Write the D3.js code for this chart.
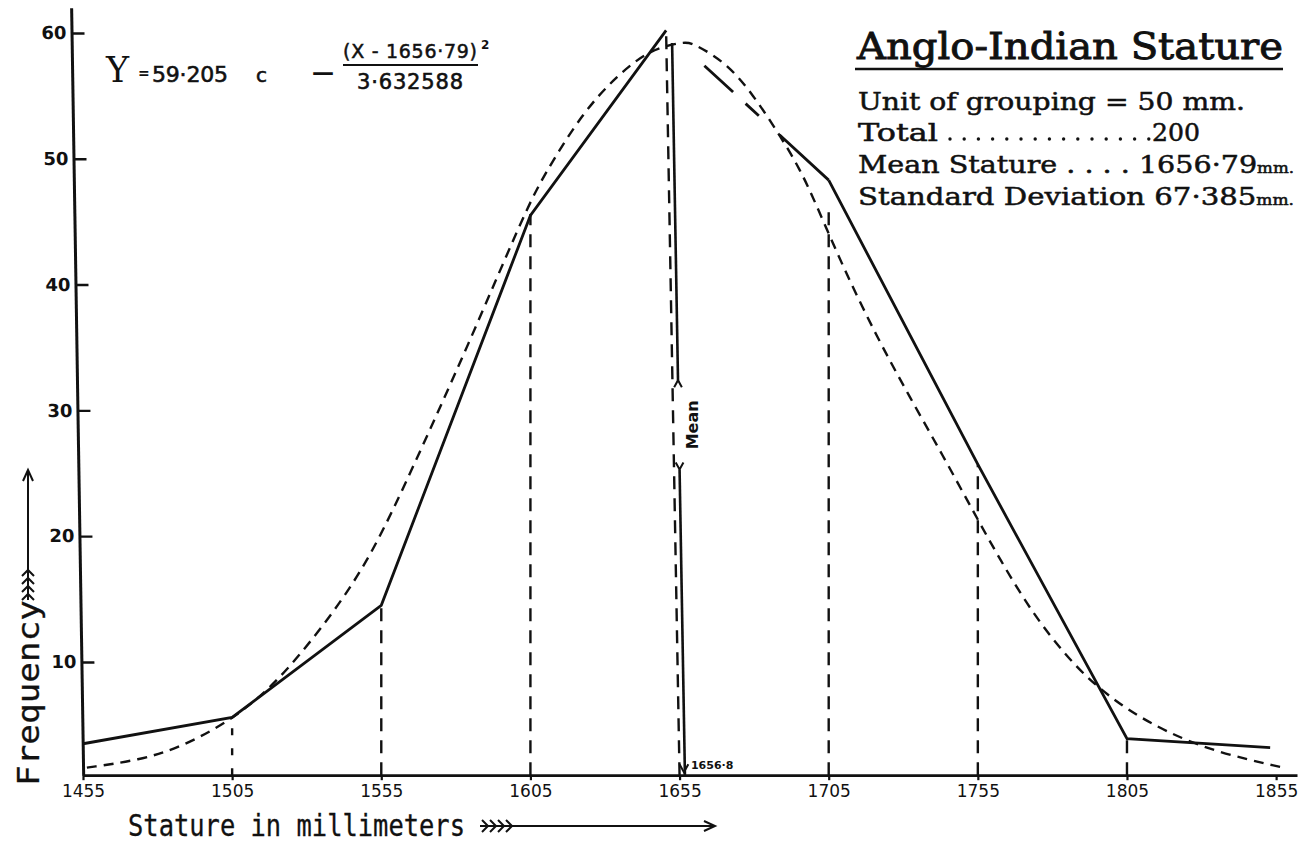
<!DOCTYPE html>
<html><head><meta charset="utf-8">
<script src="https://cdn.jsdelivr.net/npm/d3@7"></script>
<style>body{margin:0;background:#fff}svg{display:block}</style>
</head><body>
<svg id="chart" width="1299" height="842"></svg>
<script>
// ---------- data ----------
const statureTicks = [1455,1505,1555,1605,1655,1705,1755,1805,1855];
const freqTicks = [10,20,30,40,50,60];
// observed frequency polygon
const polyStature = [1455,1505,1555,1605,1650.5,1705,1755,1805,1853];
const polyFreq    = [3.5, 5.6, 14.5, 45.5, 60.2, 48.3, 25.7, 3.9, 3.2];
// fitted normal curve (dashed)
const curveStature = [1456.3,1474.1,1487.5,1503.6,1518.7,1535.5,1551.2,1567.0,1583.8,1602.5,1609.2,1622.6,1634.0,1645.1,1656.5,1659.5,1670.9,1679.6,1687.7,1695.4,1701.1,1709.8,1721.2,1732.3,1743.3,1753.4,1762.5,1773.5,1784.9,1793.6,1805.0,1818.5,1835.2,1857.4];
const curveFreq    = [1.6,2.2,3.2,5.2,8.0,12.8,18.1,26.2,35.0,45.4,48.6,53.7,56.6,58.7,59.3,59.2,57.6,55.1,52.2,49.2,46.2,41.4,35.8,31.0,26.4,22.0,18.1,13.8,10.4,8.3,6.2,4.4,2.8,1.6];
// ordinate (drop) lines
const ordStature    = [1505,1555,1605,1655,1705,1755,1805];
const ordTopStature = [1505,1555,1605,1650.5,1705,1755,1805];
const ordTopFreq    = [5.3,14.4,45.6,60.0,46.2,25.7,3.9];
// mean line
const meanStature = 1656.8;
const meanTopStature = 1652.5;
const meanTopFreq = 59.2;
const meanLabel = "Mean";
const meanValueLabel = "1656·8";
// texts
const titleText = "Anglo-Indian Stature";
const infoLines = ["Unit of grouping = 50 mm.", "Mean Stature . . . . 1656·79", "Standard Deviation 67·385"];
const totalLabel = "Total", totalValue = "200";
const xLabel = "Stature in millimeters";
const yLabel = "Frequency";

// ---------- scales ----------
const svg = d3.select("#chart");
const x = d3.scaleLinear().domain([1455, 1862]).range([83, 1297]);
const y = d3.scaleLinear().domain([1, 62]).range([775.2, 7.8]);
const baseFreq = 1;
const ink = "#111";

// ---------- x axis ----------
const xAxis = d3.axisBottom(x).tickValues(statureTicks).tickSize(5).tickSizeOuter(0).tickFormat(d3.format("d")).tickPadding(5);
const gx = svg.append("g").attr("transform", `translate(0,${y(baseFreq)})`).call(xAxis);
gx.select(".domain").attr("stroke", ink).attr("stroke-width", 2.8);
gx.selectAll(".tick line").attr("stroke", ink).attr("stroke-width", 2.2);
gx.selectAll(".tick text").attr("fill", ink).style("font-family", "DejaVu Sans").style("font-size", "17px");

// ---------- y axis (slightly slanted as drawn) ----------
const yAxis = d3.axisLeft(y).tickValues(freqTicks).tickSizeInner(-13).tickSizeOuter(0).tickPadding(5);
const gy = svg.append("g").attr("transform", "translate(71,0) skewX(0.9)").call(yAxis);
gy.select(".domain").attr("stroke", ink).attr("stroke-width", 3);
gy.selectAll(".tick line").attr("stroke", ink).attr("stroke-width", 2.4);
gy.selectAll(".tick text").attr("fill", ink).style("font-family", "DejaVu Sans").style("font-weight", "bold").style("font-size", "18px");

// ---------- ordinate lines ----------
svg.append("g").selectAll("line").data(ordStature).join("line")
  .attr("x1", d => x(d)).attr("y1", y(baseFreq))
  .attr("x2", (d,i) => x(ordTopStature[i])).attr("y2", (d,i) => y(ordTopFreq[i]))
  .attr("stroke", ink).attr("stroke-width", 2.4)
  .attr("stroke-dasharray", (d,i) => i === 0 ? "7,13" : "13,9");

// ---------- normal curve ----------
const curvePts = curveStature.map((s,i) => [x(s), y(curveFreq[i])]);
svg.append("path").attr("d", d3.line().curve(d3.curveBasis)(curvePts))
  .attr("fill", "none").attr("stroke", ink).attr("stroke-width", 2.4).attr("stroke-dasharray", "10,7");

// ---------- frequency polygon ----------
const polyPts = polyStature.map((s,i) => [x(s), y(polyFreq[i])]);
const line = d3.line();
svg.append("path").attr("d", line(polyPts.slice(0,5))).attr("fill","none").attr("stroke", ink).attr("stroke-width", 2.8).attr("stroke-linejoin","miter");
svg.append("path").attr("d", line(polyPts.slice(4,6))).attr("fill","none").attr("stroke", ink).attr("stroke-width", 2.8).attr("stroke-dasharray","0,52,39,17,18,28,400");
svg.append("path").attr("d", line(polyPts.slice(5))).attr("fill","none").attr("stroke", ink).attr("stroke-width", 2.8);

// ---------- mean line ----------
const mx = f => x(meanStature + (meanTopStature - meanStature) * (f - baseFreq) / (meanTopFreq - baseFreq));
const gapHi = 32.4, gapLo = 25.3;
svg.append("line").attr("x1", mx(meanTopFreq)).attr("y1", y(meanTopFreq)).attr("x2", mx(gapHi)).attr("y2", y(gapHi))
  .attr("stroke", ink).attr("stroke-width", 2.6);
svg.append("line").attr("x1", mx(gapLo)).attr("y1", y(gapLo)).attr("x2", mx(baseFreq)).attr("y2", y(baseFreq))
  .attr("stroke", ink).attr("stroke-width", 2.6);
function arrowHead(cx, cy, dir, s) { // dir: -1 up, 1 down
  return `M${cx - s*0.55},${cy - dir*s} L${cx},${cy} L${cx + s*0.55},${cy - dir*s}`;
}
svg.append("path").attr("d", arrowHead(mx(gapHi), y(gapHi), -1, 7)).attr("fill","none").attr("stroke",ink).attr("stroke-width",2);
svg.append("path").attr("d", arrowHead(mx(gapLo), y(gapLo), 1, 7)).attr("fill","none").attr("stroke",ink).attr("stroke-width",2);
svg.append("path").attr("d", arrowHead(mx(baseFreq)-1, y(baseFreq)-3, 1, 8)).attr("fill","none").attr("stroke",ink).attr("stroke-width",2);
const midF = (gapHi + gapLo) / 2;
svg.append("text").attr("transform", `translate(${mx(midF)+19},${y(midF)}) rotate(-90)`)
  .attr("text-anchor","middle").attr("fill", ink)
  .style("font-family","DejaVu Sans").style("font-weight","bold").style("font-size","16px")
  .text(meanLabel);
svg.append("text").attr("x", mx(baseFreq)+6).attr("y", y(baseFreq)-6).attr("fill", ink)
  .style("font-family","DejaVu Sans").style("font-weight","bold").style("font-size","11px").text(meanValueLabel);

// ---------- formula ----------
const fg = svg.append("g").attr("fill", ink);
fg.append("text").attr("x",106).attr("y",82).style("font-family","DejaVu Serif").style("font-size","35px").text("Y");
fg.append("text").attr("x",138).attr("y",78).style("font-family","DejaVu Sans").style("font-weight","bold").style("font-size","14px").text("=");
fg.append("text").attr("x",152).attr("y",82).style("font-family","DejaVu Sans").style("font-size","22px").attr("stroke",ink).attr("stroke-width",0.6).attr("textLength",76).text("59·205");
fg.append("text").attr("x",256).attr("y",82).style("font-family","DejaVu Sans").style("font-size","20px").attr("stroke",ink).attr("stroke-width",0.6).text("c");
fg.append("text").attr("x",312).attr("y",80).style("font-family","DejaVu Sans").style("font-weight","bold").style("font-size","22px").text("—");
fg.append("text").attr("x",343).attr("y",58).style("font-family","DejaVu Sans").style("font-size","19px").attr("stroke",ink).attr("stroke-width",0.5).attr("textLength",134).text("(X - 1656·79)");
fg.append("text").attr("x",481).attr("y",49).style("font-family","DejaVu Sans").style("font-weight","bold").style("font-size","12px").text("2");
svg.append("line").attr("x1",343).attr("x2",478).attr("y1",65).attr("y2",65).attr("stroke",ink).attr("stroke-width",2);
fg.append("text").attr("x",357).attr("y",89).style("font-family","DejaVu Sans").style("font-size","21px").attr("stroke",ink).attr("stroke-width",0.6).attr("textLength",106).text("3·632588");

// ---------- title block ----------
const tg = svg.append("g").attr("fill", ink).style("font-family","DejaVu Serif");
tg.append("text").attr("x",857).attr("y",59).style("font-size","37px").attr("stroke",ink).attr("stroke-width",0.9)
  .attr("textLength",426).attr("lengthAdjust","spacingAndGlyphs").text(titleText);
svg.append("line").attr("x1",855).attr("x2",1283).attr("y1",69).attr("y2",69).attr("stroke",ink).attr("stroke-width",2.5);
const infoY = [110,173,205];
const infoW = [387,436,436];
infoLines.forEach((t,i) => {
  const te = tg.append("text").attr("x",858).attr("y",infoY[i]).style("font-size","24px")
    .attr("stroke",ink).attr("stroke-width",0.5)
    .attr("textLength", infoW[i]).attr("lengthAdjust","spacingAndGlyphs");
  te.append("tspan").text(t);
  if (i >= 1) te.append("tspan").style("font-size","14px").text("mm.");
});
// Total line
tg.append("text").attr("x",858).attr("y",141).style("font-size","24px").attr("stroke",ink).attr("stroke-width",0.5)
  .attr("textLength",80).attr("lengthAdjust","spacingAndGlyphs").text(totalLabel);
tg.append("g").selectAll("circle").data(d3.range(15)).join("circle")
  .attr("cx", d => 950 + d*14.2).attr("cy", 139).attr("r", 1.7).attr("fill", ink);
tg.append("text").attr("x",1152).attr("y",141).style("font-size","24px").attr("stroke",ink).attr("stroke-width",0.5)
  .attr("textLength",48).attr("lengthAdjust","spacingAndGlyphs").text(totalValue);

// ---------- axis titles ----------
svg.append("text").attr("x",128).attr("y",836).attr("fill",ink)
  .style("font-family","DejaVu Sans Mono").style("font-size","30px").attr("stroke",ink).attr("stroke-width",0.3)
  .attr("textLength",337).attr("lengthAdjust","spacingAndGlyphs").text(xLabel);
svg.append("text").attr("transform","translate(39,786) rotate(-90)").attr("fill",ink)
  .style("font-family","DejaVu Sans Mono").style("font-size","31px").attr("stroke",ink).attr("stroke-width",0.3)
  .attr("textLength",186).attr("lengthAdjust","spacingAndGlyphs").text(yLabel);

// arrows with feathers
function feathers(g, n, x0, y0, dx, dy, s) {
  for (let k = 0; k < n; k++) {
    const cx = x0 + dx*k, cy = y0 + dy*k;
    if (dx !== 0) g.append("path").attr("d", `M${cx - s},${cy - s} L${cx},${cy} L${cx - s},${cy + s}`);
    else g.append("path").attr("d", `M${cx - s},${cy + s} L${cx},${cy} L${cx + s},${cy + s}`);
  }
}
const ag = svg.append("g").attr("fill","none").attr("stroke",ink).attr("stroke-width",2);
ag.append("line").attr("x1",480).attr("x2",714).attr("y1",826).attr("y2",826);
ag.append("path").attr("d","M704,821 L715,826 L704,831");
feathers(ag, 4, 488, 826, 8, 0, 6);
ag.append("line").attr("x1",28).attr("x2",28).attr("y1",600).attr("y2",471);
ag.append("path").attr("d","M23,481 L28,470 L33,481");
feathers(ag, 4, 28, 594, 0, -8, 6);
</script>
</body></html>
